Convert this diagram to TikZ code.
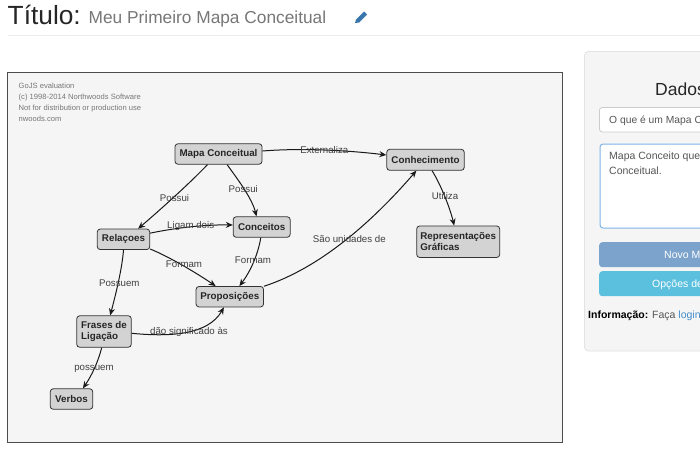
\documentclass[tikz,border=0pt]{standalone}
\usepackage{fontspec}
\usetikzlibrary{arrows.meta}
\setmainfont{Liberation Sans}
\definecolor{panelgray}{HTML}{F5F5F5}
\definecolor{panelline}{HTML}{E3E3E3}
\definecolor{boxgray}{HTML}{D3D3D3}
\definecolor{boxline}{HTML}{333333}
\definecolor{textgray}{HTML}{777777}
\definecolor{fieldtext}{HTML}{555555}
\definecolor{fieldline}{HTML}{CCCCCC}
\definecolor{focusblue}{HTML}{7FB5E6}
\definecolor{linkblue}{HTML}{428BCA}
\definecolor{btnblue}{HTML}{7BA3CB}
\definecolor{btncyan}{HTML}{5BC0DE}
\tikzset{
  concept/.style={draw=boxline, fill=boxgray, rounded corners=3, line width=0.8, align=left, inner sep=0,
    font=\fontsize{9.8}{11}\selectfont\bfseries, text=black!85},
  link/.style={-{Stealth[length=7,width=6]}, line width=1, black!90},
  linklabel/.style={inner sep=0, font=\fontsize{9.7}{12}\selectfont, text=black!75},
  plaintext/.style={inner sep=0, anchor=base west},
  watermark/.style={plaintext, font=\fontsize{7.6}{9}\selectfont, text=textgray},
  field/.style={draw=fieldline, fill=white, rounded corners=3, line width=0.8},
  button/.style={rounded corners=3}
}
\begin{document}
\begin{tikzpicture}[x=1pt, y=-1pt]
        \clip (0,0) rectangle (700,450);
        \fill[white] (0,0) rectangle (700,450);

        % Page heading
        \node[plaintext, font=\fontsize{26.3}{30}\selectfont, text=black!85] (title) at (7.5,24) {Título:};
        \node[plaintext, font=\fontsize{17.3}{20}\selectfont, text=textgray] (subtitle) at (88.5,23) {Meu Primeiro Mapa Conceitual};
        \draw[black!7, line width=0.8] (8,35.5) -- (700,35.5);
        % Pencil icon
        \fill[linkblue!85!black] (355,23) -- (356,19.5) -- (364,11.5) -- (367,14.5) -- (359,22.5) -- cycle;

        % Diagram canvas
        \draw[draw=black!70, fill=panelgray, line width=1] (7.5,72.5) rectangle (562,442.5);
        \node[watermark] (wm1) at (18.5,88) {GoJS evaluation};
        \node[watermark] (wm2) at (18.5,99) {(c) 1998-2014 Northwoods Software};
        \node[watermark] (wm3) at (18.5,110) {Not for distribution or production use};
        \node[watermark] (wm4) at (18.5,121) {nwoods.com};

        % Concepts
        \node[concept, minimum width=87, minimum height=20.5] (mapa) at (218.5,154) {Mapa Conceitual};
        \node[concept, minimum width=57, minimum height=20.5] (conceitos) at (261.7,227) {Conceitos};
        \node[concept, minimum width=52.5, minimum height=20.5] (relacoes) at (123.5,239.3) {Relaçoes};
        \node[concept, minimum width=67.5, minimum height=20.5] (proposicoes) at (229.8,296.7) {Proposições};
        \node[concept, minimum width=54.5, minimum height=31.5] (frases) at (104,331.5) {Frases de\\Ligação};
        \node[concept, minimum width=42.5, minimum height=20.5] (verbos) at (71.5,399) {Verbos};
        \node[concept, minimum width=77.5, minimum height=21] (conhecimento) at (425.5,159.8) {Conhecimento};
        \node[concept, minimum width=83, minimum height=31.5] (representacoes) at (458.2,241.7) {Representações\\Gráficas};

        % Links
        \draw[link] (mapa.-136) .. controls (190,183) and (160,210) .. (relacoes.36);
        \draw[link] (mapa.-51) .. controls (236,177) and (252,198) .. (conceitos.116);
        \draw[link] (relacoes.13) .. controls (170,229) and (200,224.5) .. (conceitos.176);
        \draw[link] (relacoes.-20) .. controls (170,257) and (198,274) .. (proposicoes.143);
        \draw[link] (conceitos.-95) .. controls (258,255) and (250,272) .. (proposicoes.48);
        \draw[link] (relacoes.-90) .. controls (122,270) and (115,297) .. (frases.69);
        \draw[link] (frases.east |- 0,333.3) .. controls (170,337) and (208,335) .. (proposicoes.-119);
        \draw[link] (frases.-98) .. controls (98,362) and (92,375) .. (verbos.43);
        \draw[link] (mapa.east |- 0,151) .. controls (300,148) and (345,150) .. (conhecimento.173);
        \draw[link] (proposicoes.17) .. controls (320,268) and (372,222) .. (conhecimento.-130);
        \draw[link] (conhecimento.-59) .. controls (441,185) and (450,208) .. (representacoes.104);

        % Link labels
        \node[linklabel] (possui1) at (174.5,197.7) {Possui};
        \node[linklabel] (possui2) at (243.3,189) {Possui};
        \node[linklabel] (ligam) at (190.7,226) {Ligam dois};
        \node[linklabel] (formam1) at (184,264.7) {Formam};
        \node[linklabel] (formam2) at (253,260.7) {Formam};
        \node[linklabel] (possuem1) at (119.3,283) {Possuem};
        \node[linklabel] (significado) at (189,332) {dão significado às};
        \node[linklabel] (possuem2) at (94,369) {possuem};
        \node[linklabel] (externaliza) at (324.3,149.7) {Externaliza};
        \node[linklabel] (unidades) at (349.3,239.3) {São unidades de};
        \node[linklabel] (utiliza) at (445,196.3) {Utiliza};

        % Side panel
        \draw[draw=panelline, fill=panelgray, rounded corners=4, line width=0.8] (584.5,51.5) rectangle (720,351);
        \node[plaintext, font=\fontsize{17.5}{20}\selectfont, text=black!85] (dados) at (655,95.5) {Dados};
        \node[field, minimum width=130, minimum height=24.5, anchor=north west] (pergunta) at (599,107) {};
        \node[plaintext, font=\fontsize{10.3}{14}\selectfont, text=fieldtext] (perguntatext) at (609,123) {O que é um Mapa C};
        \node[field, draw=focusblue, line width=1, minimum width=130, minimum height=84, anchor=north west] (resposta) at (599.5,143.5) {};
        \node[plaintext, font=\fontsize{10.5}{13}\selectfont, text=fieldtext] (resposta1) at (609,159.5) {Mapa Conceito que};
        \node[plaintext, font=\fontsize{10.5}{13}\selectfont, text=fieldtext] (resposta2) at (609,174) {Conceitual.};
        \node[button, fill=btnblue, minimum width=130, minimum height=25, anchor=north west] (novo) at (599,242) {};
        \node[plaintext, font=\fontsize{10.5}{13}\selectfont, text=white] (novotext) at (664,258.5) {Novo M};
        \node[button, fill=btncyan, minimum width=130, minimum height=25, anchor=north west] (opcoes) at (599,271) {};
        \node[plaintext, font=\fontsize{10.5}{13}\selectfont, text=white] (opcoestext) at (652,287.5) {Opções de};
        \node[plaintext, font=\fontsize{10.5}{13}\selectfont] (info) at (588,318) {\textbf{Informação:} \textcolor{fieldtext}{Faça} \textcolor{linkblue}{login}};
\end{tikzpicture}
\end{document}
